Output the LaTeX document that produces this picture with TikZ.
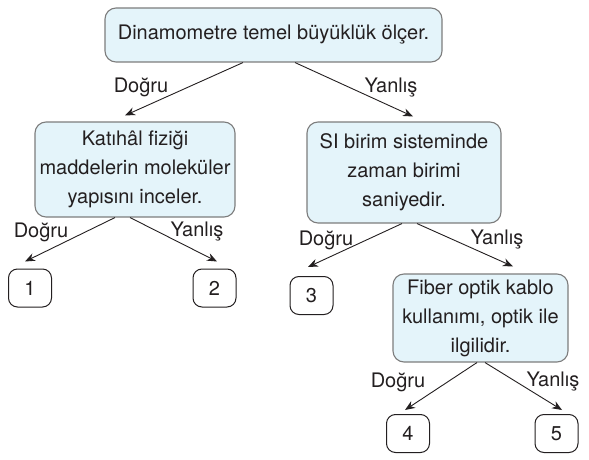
\documentclass[tikz,border=0pt]{standalone}
\usepackage{fontspec}
\setmainfont{TeX Gyre Heros}
\usetikzlibrary{arrows.meta,calc}
\definecolor{boxfill}{RGB}{228,244,250}
\definecolor{boxline}{RGB}{125,125,125}
\definecolor{ink}{RGB}{35,31,32}
\begin{document}
\begin{tikzpicture}[x=1pt,y=-1pt,
  every node/.style={text=ink,font=\fontsize{20}{29}\selectfont},
  qbox/.style={draw=boxline,line width=1.1pt,fill=boxfill,rounded corners=11pt,align=center,inner sep=0pt},
  leaf/.style={draw=ink,line width=1pt,fill=white,rounded corners=9pt,minimum width=43pt,minimum height=38pt,inner sep=0pt},
  lbl/.style={inner sep=0pt},
  conn/.style={draw=ink,line width=0.9pt,-{Stealth[length=10pt,width=8pt]}}]
\useasboundingbox (0,0) rectangle (589,460);
\node[qbox,minimum width=337pt,minimum height=54pt] (top) at (273.5,35) {Dinamometre temel büyüklük ölçer.};
\node[qbox,minimum width=200pt,minimum height=95pt] (lb) at (135,169.5) {Katıhâl fiziği\\maddelerin moleküler\\yapısını inceler.};
\node[qbox,minimum width=194pt,minimum height=101pt] (si) at (404,172.5) {SI birim sisteminde\\zaman birimi\\saniyedir.};
\node[qbox,minimum width=175pt,minimum height=88pt] (fb) at (480.5,318) {Fiber optik kablo\\kullanımı, optik ile\\ilgilidir.};
\node[leaf] (n1) at (30,288) {1};
\node[leaf] (n2) at (214.5,288) {2};
\node[leaf] (n3) at (311.5,295.5) {3};
\node[leaf] (n4) at (408,433.5) {4};
\node[leaf] (n5) at (556.5,433.5) {5};
\node[lbl] (d1) at (141,87) {Doğru};
\node[lbl] (y1) at (391,88) {Yanlış};
\node[lbl] (d2) at (41,232) {Doğru};
\node[lbl] (y2) at (197,232) {Yanlış};
\node[lbl] (d3) at (326,240) {Doğru};
\node[lbl] (y3) at (497,240) {Yanlış};
\node[lbl] (d4) at (398,382) {Doğru};
\node[lbl] (y4) at (553,382) {Yanlış};
\draw[conn] ($(top.south)+(-30.5,0)$) -- ($(lb.north)+(-10,-6)$);
\draw[conn] ($(top.south)+(21.5,0)$) -- ($(si.north)+(9,-5)$);
\draw[conn] ($(lb.south)+(-20,0)$) -- ($(n1.north)+(-5,-7)$);
\draw[conn] ($(lb.south)+(-5,0)$) -- ($(n2.north)+(2.5,-7)$);
\draw[conn] ($(si.south)+(-2,0)$) -- ($(n3.north)+(-3.5,-9)$);
\draw[conn] ($(si.south)+(13,0)$) -- ($(fb.north)+(32.5,-7)$);
\draw[conn] ($(fb.south)+(-3.5,0)$) -- ($(n4.north)+(-3,-4)$);
\draw[conn] ($(fb.south)+(4.5,0)$) -- ($(n5.north)+(5.5,-4)$);
\end{tikzpicture}
\end{document}
